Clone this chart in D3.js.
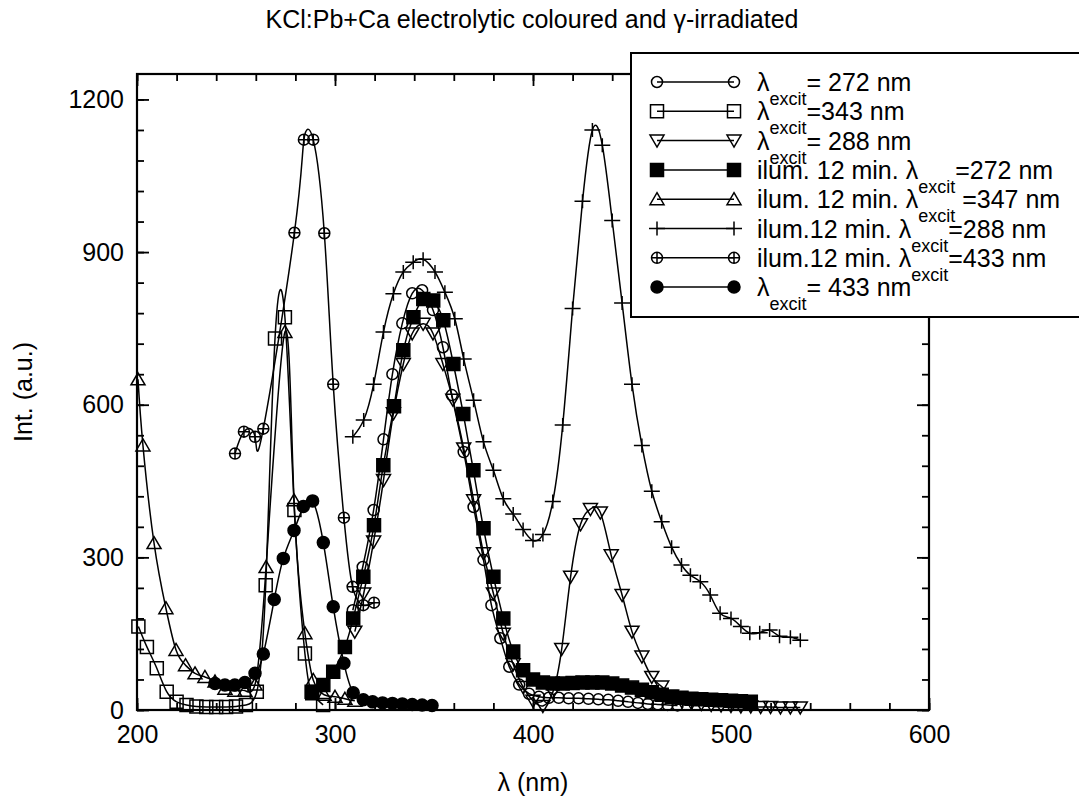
<!DOCTYPE html>
<html>
<head>
<meta charset="utf-8">
<script src="https://cdn.jsdelivr.net/npm/d3@7"></script>
<style>
  body { margin: 0; background: #fff; }
  svg { display: block; font-family: "Liberation Sans", Arial, sans-serif; }
</style>
</head>
<body>
<div id="chart"></div>
<script>
// ---- data (wavelength in nm, intensity in a.u.) ----
// λexcit = 272 nm, open circles
var exc272Nm  = [309, 314, 319.5, 324.5, 329, 334, 339, 344, 349.5, 354.5, 359, 365, 370, 375, 379, 383.5, 388, 393, 398, 403, 408, 413, 418, 423, 428, 433, 438, 443, 448, 453, 458, 463, 468, 473];
var exc272Int = [196, 281, 393, 532, 660, 760, 819, 825, 786, 713, 619, 507, 399, 295, 206, 141, 85, 50, 32, 26, 24, 24, 23, 23, 22, 21, 20, 18, 16, 14, 12, 11, 10, 9];

// λexcit = 343 nm, open squares
var exc343Nm  = [200.7, 205, 210, 215, 220, 225, 230, 235, 240, 245, 250, 255, 260.5, 265, 269.7, 274.7, 279.5, 284.8, 288.5, 294];
var exc343Int = [164, 124, 82, 36, 16, 10, 7, 6, 6, 6, 7, 10, 36, 245, 730, 772, 393, 111, 33, 10];

// λexcit = 288 nm, open down triangles
var exc288Nm  = [310, 314.5, 319.5, 324.5, 329.5, 334.5, 339, 344.5, 349.5, 354.5, 359.5, 365, 370, 375, 380, 385, 390, 395, 400, 405, 410, 414.5, 419, 424, 429, 434, 439.5, 445, 450, 455, 460, 465, 470, 475, 480, 485, 490, 495, 500, 505, 510, 515, 520, 525, 530, 535];
var exc288Int = [154, 229, 331, 452, 583, 680, 740, 759, 740, 680, 610, 514, 412, 308, 229, 150, 90, 45, 18, 8, 35, 120, 262, 365, 395, 388, 304, 226, 154, 105, 65, 46, 28, 18, 14, 12, 10, 9, 8, 7, 7, 6, 6, 5, 5, 5];

// ilum. 12 min, λexcit = 272 nm, filled squares
var ilum272Nm  = [288.2, 294.1, 299.1, 305, 309.2, 314.3, 319.7, 324.4, 329.8, 334.5, 339.6, 344.6, 349.6, 354.7, 359.8, 364.8, 369.9, 375, 380, 385, 390, 395, 400, 405, 410, 415, 420, 425, 430, 435, 440, 445, 450, 455, 460, 465, 470, 475, 480, 485, 490, 495, 500, 505, 510];
var ilum272Int = [36, 49, 75, 124, 180, 262, 363, 481, 597, 707, 772, 808, 805, 766, 680, 582, 471, 357, 262, 180, 115, 78, 60, 54, 52, 52, 53, 54, 54, 54, 52, 48, 44, 40, 35, 30, 26, 24, 22, 21, 20, 19, 18, 17, 16];

// ilum. 12 min, λexcit = 347 nm, open up triangles
var ilum347Nm  = [200.5, 203, 208.6, 214.6, 219.7, 224.5, 229.3, 234.3, 239.4, 244.4, 249.4, 254.5, 259.6, 265.2, 274.7, 279.3, 284.8, 289, 294.5, 300, 305, 310];
var ilum347Int = [650, 520, 328, 200, 118, 88, 72, 65, 56, 42, 38, 38, 50, 281, 743, 412, 151, 59, 30, 26, 22, 18];

// ilum. 12 min, λexcit = 288 nm, plus signs
var ilum288Nm  = [309, 314.5, 319.5, 324.5, 329.5, 334.5, 339.5, 344.5, 350.5, 355.5, 360.5, 365, 370, 375, 380, 385, 390, 395, 400, 405, 410, 415, 420, 425, 430, 435, 440, 445, 450, 455, 460, 465, 470, 475, 479.5, 484.5, 489.5, 494.5, 500, 505, 509.5, 514.5, 519.5, 524.5, 530, 535];
var ilum288Int = [537, 570, 640, 743, 818, 861, 880, 886, 861, 821, 769, 690, 609, 527, 471, 415, 385, 355, 333, 345, 410, 560, 789, 1000, 1140, 1110, 962, 800, 640, 520, 430, 370, 320, 285, 265, 252, 226, 190, 180, 164, 151, 152, 157, 145, 143, 137];

// ilum. 12 min, λexcit = 433 nm, circled plus
var ilum433Nm  = [249.5, 254, 259.6, 263.8, 279.5, 284.3, 289, 294.6, 299.1, 304.5, 308.9, 314.3, 319.7];
var ilum433Int = [504, 547, 537, 553, 938, 1121, 1121, 937, 640, 378, 242, 206, 211];

// λexcit = 433 nm, filled circles
var exc433Nm  = [239.4, 244.4, 249.4, 254.5, 259.6, 263.8, 269.3, 273.9, 279.3, 284, 288.7, 294.1, 299.1, 304.5, 309.2, 314.3, 319, 324, 329, 334, 339, 344, 349];
var exc433Int = [52, 49, 49, 54, 72, 110, 217, 298, 353, 400, 411, 329, 203, 92, 34, 20, 16, 14, 13, 12, 11, 10, 9];

var xMajorTicks = [200, 300, 400, 500, 600];
var yMajorTicks = [0, 300, 600, 900, 1200];

var titleText = 'KCl:Pb+Ca electrolytic coloured and \u03b3-irradiated';

// legend rows: label pieces before / after the "excit" subscript
var seriesList = [
  {nm: exc272Nm,  val: exc272Int,  mark: 'circle',  pre: '\u03bb', post: '= 272 nm'},
  {nm: exc343Nm,  val: exc343Int,  mark: 'square',  pre: '\u03bb', post: '=343 nm'},
  {nm: exc288Nm,  val: exc288Int,  mark: 'triDown', pre: '\u03bb', post: '= 288 nm'},
  {nm: ilum272Nm, val: ilum272Int, mark: 'fsquare', pre: 'ilum. 12 min. \u03bb', post: '=272 nm'},
  {nm: ilum347Nm, val: ilum347Int, mark: 'triUp',   pre: 'ilum. 12 min. \u03bb', post: ' =347 nm'},
  {nm: ilum288Nm, val: ilum288Int, mark: 'plus',    pre: 'ilum.12 min. \u03bb', post: '=288 nm'},
  {nm: ilum433Nm, val: ilum433Int, mark: 'oplus',   pre: 'ilum.12 min. \u03bb', post: '=433 nm'},
  {nm: exc433Nm,  val: exc433Int,  mark: 'fcircle', pre: '\u03bb', post: '= 433 nm'}
];

//configuration
var config = {};
config.width     = 1079;
config.height    = 803;
config.left      = 137;
config.right     = 929;
config.top       = 74;
config.bottom    = 710;
config.fontSize  = 25;
config.lineWidth = 1.5;

var svg = d3.select('#chart').append('svg')
    .attr('width', config.width)
    .attr('height', config.height);

var x = d3.scaleLinear().domain([200, 600]).range([config.left, config.right]);
var y = d3.scaleLinear().domain([0, 1250]).range([config.bottom, config.top]);

//marker shapes
function markerPath(kind){
    var r = 5.5;
    var circ = 'M' + r + ',0A' + r + ',' + r + ' 0 1,1 ' + (-r) + ',0A' + r + ',' + r + ' 0 1,1 ' + r + ',0Z';
    switch(kind){
        case 'circle':  return circ;
        case 'fcircle': return 'M6,0A6,6 0 1,1 -6,0A6,6 0 1,1 6,0Z';
        case 'square':
        case 'fsquare': return 'M-6.5,-6.5H6.5V6.5H-6.5Z';
        case 'triUp':   return 'M0,-6.5L7,5.5H-7Z';
        case 'triDown': return 'M0,6.5L7,-5.5H-7Z';
        case 'plus':    return 'M-8,0H8M0,-7V7';
        case 'oplus':   return circ + 'M' + (-r) + ',0H' + r + 'M0,' + (-r) + 'V' + r;
    }
}
function drawMarker(g, kind, cx, cy){
    var filled = (kind == 'fcircle' || kind == 'fsquare');
    g.append('path')
        .attr('d', markerPath(kind))
        .attr('transform', 'translate(' + cx + ',' + cy + ')')
        .attr('fill', filled ? '#000' : 'none')
        .attr('stroke', '#000')
        .attr('stroke-width', 1.5);
}

//clip for lines
svg.append('clipPath').attr('id', 'plotClip')
    .append('rect')
    .attr('x', config.left).attr('y', config.top)
    .attr('width', config.right - config.left)
    .attr('height', config.bottom - config.top);

var line = d3.line()
    .x(function(d){ return x(d[0]); })
    .y(function(d){ return y(d[1]); })
    .curve(d3.curveNatural);

var plot = svg.append('g').attr('class', 'series');
seriesList.forEach(function(s){
    var pts = s.nm.map(function(v, i){ return [v, s.val[i]]; });
    plot.append('path')
        .attr('d', line(pts))
        .attr('fill', 'none')
        .attr('stroke', '#000')
        .attr('stroke-width', config.lineWidth)
        .attr('clip-path', 'url(#plotClip)');
    var mg = plot.append('g');
    pts.forEach(function(p){
        drawMarker(mg, s.mark, x(p[0]), y(p[1]));
    });
});

//axes (ticks point inward)
function styleAxis(g){
    g.select('.domain').remove();
    g.selectAll('line').attr('stroke', '#000').attr('stroke-width', 1.8);
    g.selectAll('text')
        .attr('fill', '#000')
        .style('font-size', config.fontSize + 'px')
        .style('font-family', '"Liberation Sans", Arial, sans-serif');
}
var xMinor = d3.range(200, 601, 20);
var yMinor = d3.range(0, 1250, 60);
var fmt = d3.format('d');

svg.append('g').attr('transform', 'translate(0,' + config.bottom + ')')
    .call(d3.axisBottom(x).tickValues(xMinor).tickSize(-7).tickFormat(''))
    .call(styleAxis);
svg.append('g').attr('transform', 'translate(0,' + config.bottom + ')')
    .call(d3.axisBottom(x).tickValues(xMajorTicks).tickFormat(fmt).tickSizeInner(-12).tickSizeOuter(0).tickPadding(15))
    .call(styleAxis);
svg.append('g').attr('transform', 'translate(0,' + config.top + ')')
    .call(d3.axisTop(x).tickValues(xMinor).tickSize(-7).tickFormat(''))
    .call(styleAxis);
svg.append('g').attr('transform', 'translate(0,' + config.top + ')')
    .call(d3.axisTop(x).tickValues(xMajorTicks).tickSize(-12).tickFormat(''))
    .call(styleAxis);
svg.append('g').attr('transform', 'translate(' + config.left + ',0)')
    .call(d3.axisLeft(y).tickValues(yMinor).tickSize(-7).tickFormat(''))
    .call(styleAxis);
svg.append('g').attr('transform', 'translate(' + config.left + ',0)')
    .call(d3.axisLeft(y).tickValues(yMajorTicks).tickFormat(fmt).tickSizeInner(-12).tickSizeOuter(0).tickPadding(13))
    .call(styleAxis);
svg.append('g').attr('transform', 'translate(' + config.right + ',0)')
    .call(d3.axisRight(y).tickValues(yMinor).tickSize(-7).tickFormat(''))
    .call(styleAxis);
svg.append('g').attr('transform', 'translate(' + config.right + ',0)')
    .call(d3.axisRight(y).tickValues(yMajorTicks).tickSize(-12).tickFormat(''))
    .call(styleAxis);

//frame
svg.append('rect')
    .attr('x', config.left).attr('y', config.top)
    .attr('width', config.right - config.left)
    .attr('height', config.bottom - config.top)
    .attr('fill', 'none')
    .attr('stroke', '#000')
    .attr('stroke-width', 2.2);

//titles
svg.append('text')
    .attr('x', 532).attr('y', 28)
    .attr('text-anchor', 'middle')
    .style('font-size', config.fontSize + 'px')
    .text(titleText);
svg.append('text')
    .attr('x', (config.left + config.right) / 2).attr('y', 791)
    .attr('text-anchor', 'middle')
    .style('font-size', config.fontSize + 'px')
    .text('\u03bb (nm)');
svg.append('text')
    .attr('transform', 'translate(32,' + ((config.top + config.bottom) / 2) + ') rotate(-90)')
    .attr('text-anchor', 'middle')
    .style('font-size', config.fontSize + 'px')
    .text('Int. (a.u.)');

//legend
var legend = svg.append('g').attr('class', 'legend');
legend.append('rect')
    .attr('x', 631).attr('y', 53)
    .attr('width', 470).attr('height', 264)
    .attr('fill', '#fff')
    .attr('stroke', '#000')
    .attr('stroke-width', 2);

var rowY0 = 82, rowStep = 29.3;
seriesList.forEach(function(s, i){
    var ry = rowY0 + i * rowStep;
    legend.append('line')
        .attr('x1', 657).attr('x2', 734)
        .attr('y1', ry).attr('y2', ry)
        .attr('stroke', '#000')
        .attr('stroke-width', config.lineWidth);
    drawMarker(legend, s.mark, 657, ry);
    drawMarker(legend, s.mark, 734, ry);
    var t = legend.append('text')
        .attr('x', 757).attr('y', ry + 9)
        .style('font-size', config.fontSize + 'px');
    t.append('tspan').text(s.pre);
    t.append('tspan').attr('dy', 14).style('font-size', '18px').text('excit');
    t.append('tspan').attr('dy', -14).style('white-space', 'pre').text(s.post);
});
</script>
</body>
</html>
